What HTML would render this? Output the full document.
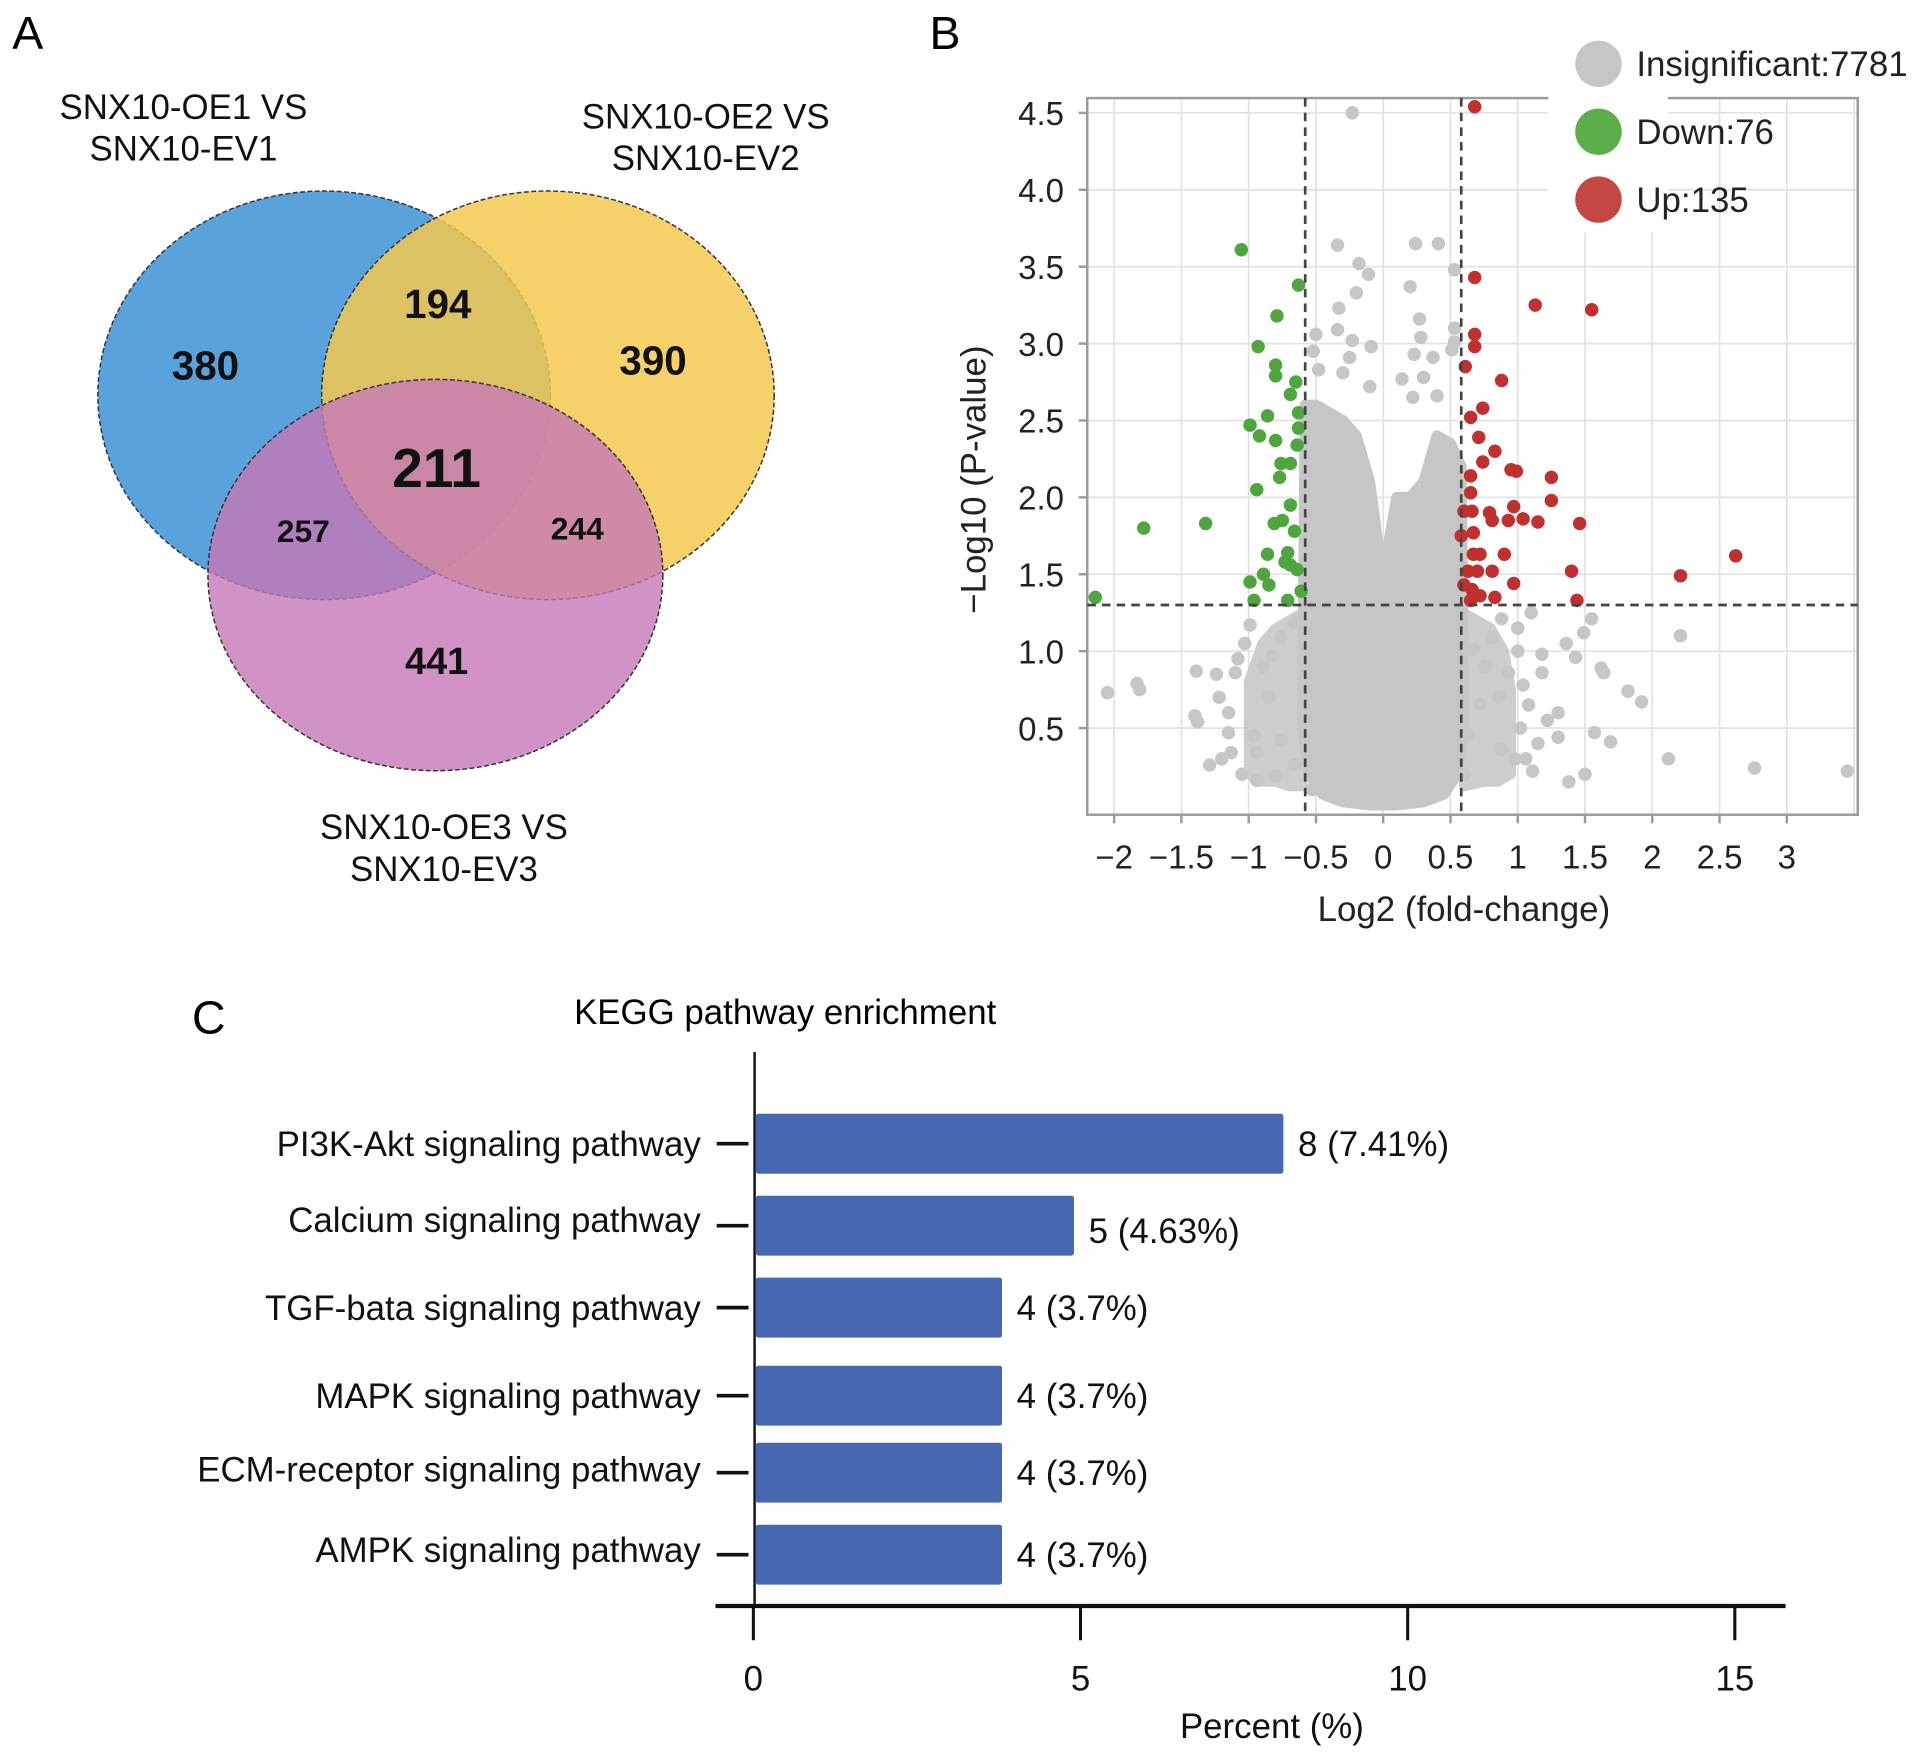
<!DOCTYPE html>
<html><head><meta charset="utf-8"><style>
html,body{margin:0;padding:0;background:#fff}
svg{display:block;font-family:"Liberation Sans",Arial,sans-serif}
</style></head><body>
<svg id="fig" width="1914" height="1753" viewBox="0 0 1565 1433" xmlns="http://www.w3.org/2000/svg">
<rect width="1565" height="1433" fill="#fff"/>
<g id="panelA">
<text x="10" y="40" font-size="38">A</text>
<ellipse cx="265" cy="323" rx="185" ry="167" fill="#5AA2DB" stroke="#333" stroke-width="1.2" stroke-dasharray="4 2"/>
<ellipse cx="448" cy="323" rx="185" ry="167" fill="#F4C84E" fill-opacity="0.85" stroke="#333" stroke-width="1.2" stroke-dasharray="4 2"/>
<ellipse cx="356" cy="470" rx="186" ry="160" fill="#C678B6" fill-opacity="0.8" stroke="#333" stroke-width="1.2" stroke-dasharray="4 2"/>
<g font-size="28.5" text-anchor="middle" fill="#111">
<text x="150" y="97">SNX10-OE1 VS</text>
<text x="150" y="131">SNX10-EV1</text>
<text x="577" y="105">SNX10-OE2 VS</text>
<text x="577" y="139">SNX10-EV2</text>
<text x="363" y="686">SNX10-OE3 VS</text>
<text x="363" y="720">SNX10-EV3</text>
</g>
<g font-weight="bold" text-anchor="middle" fill="#111">
<text x="168" y="310" font-size="33">380</text>
<text x="358" y="260" font-size="33">194</text>
<text x="534" y="306" font-size="33">390</text>
<text x="357" y="398" font-size="45">211</text>
<text x="248" y="443" font-size="26">257</text>
<text x="472" y="441" font-size="26">244</text>
<text x="357" y="551" font-size="31">441</text>
</g>
</g>
<g id="panelB">
<text x="760" y="40" font-size="38">B</text>
</g>
<g id="panelC">
<text x="157" y="845" font-size="38">C</text>
<text x="642" y="837" font-size="28.5" text-anchor="middle">KEGG pathway enrichment</text>
</g>
</svg>
<script>
// ---- Volcano data ----
const xTicks = [-2,-1.5,-1,-0.5,0,0.5,1,1.5,2,2.5,3];
const xTickLabels = ["\u22122","\u22121.5","\u22121","\u22120.5","0","0.5","1","1.5","2","2.5","3"];
const yTicks = [0.5,1,1.5,2,2.5,3,3.5,4,4.5];
const yTickLabels = ["0.5","1.0","1.5","2.0","2.5","3.0","3.5","4.0","4.5"];
const fcThreshold = [-0.58, 0.58];
const pThreshold = 1.3;
const legendLabels = ["Insignificant:7781","Down:76","Up:135"];
const coreX = [-0.58,-0.5,-0.4,-0.3,-0.2,-0.1,-0.04,0,0.04,0.1,0.2,0.3,0.4,0.5,0.58,0.6,0.55,0.45,0.3,0.1,-0.1,-0.3,-0.45,-0.55,-0.6];
const coreY = [2.6,2.6,2.55,2.5,2.4,2.1,1.7,1.3,1.7,2.0,2.0,2.1,2.4,2.35,2.2,0.5,0.2,0.07,0.02,0.0,0.0,0.02,0.07,0.2,0.5];
const leftShoulderX = [-0.6,-0.7,-0.8,-0.9,-1.0,-1.0,-0.9,-0.8,-0.7,-0.6];
const leftShoulderY = [1.25,1.2,1.15,1.05,0.8,0.2,0.15,0.15,0.12,0.12];
const rightShoulderX = [0.6,0.7,0.8,0.9,0.95,0.95,0.85,0.75,0.6];
const rightShoulderY = [1.25,1.2,1.15,1.0,0.75,0.2,0.15,0.15,0.12];
const greyX = [-0.23,-0.34,0.24,0.41,-0.18,-0.11,0.2,0.53,-0.2,-0.33,0.27,0.28,-0.34,-0.23,-0.09,-0.25,0.23,0.37,-0.48,-0.3,-0.1,0.14,0.3,0.4,0.22,0.53,0.51,1.49,2.21,1.43,1.0,1.18,1.62,1.64,1.82,1.92,1.3,1.57,1.69,1.3,1.38,1.5,2.12,2.76,3.45,-2.05,-1.83,-1.81,-1.39,-1.4,-1.38,-1.29,-1.15,-1.13,-1.22,-0.96,-0.94,-0.94,-0.8,-1.24,-1.1,-1.03,-0.99,0.93,1.04,1.18,1.06,1.11,0.88,0.86,1.1,1.0,0.67,0.76,0.72,0.63,0.6,-0.66,-0.76,-0.85,-0.89,0.81,0.88,-0.66,-0.76,-0.82,-0.53,1.55,1.36,-0.5,-0.52,0.53,-1.08,-1.15,-1.2,1.02,1.08,1.15,1.22,-1.05,0.98];
const greyY = [4.5,3.64,3.65,3.65,3.52,3.45,3.37,3.48,3.33,3.23,3.16,3.04,3.09,3.02,2.98,2.91,2.93,2.91,2.83,2.81,2.72,2.77,2.78,2.66,2.65,3.01,2.96,1.12,1.1,0.96,1.0,0.98,0.89,0.86,0.74,0.67,0.6,0.47,0.41,0.44,0.15,0.2,0.3,0.24,0.22,0.73,0.79,0.75,0.87,0.58,0.54,0.26,0.47,0.34,0.7,0.45,0.34,0.16,0.19,0.85,0.86,1.05,1.17,0.86,0.78,0.86,0.3,0.22,0.36,0.7,1.25,1.15,1.01,0.9,0.66,0.46,0.2,0.26,0.42,0.7,0.9,1.09,1.21,1.19,1.09,0.97,0.1,1.21,1.05,3.06,2.95,3.1,0.95,0.6,0.3,0.5,0.65,0.4,0.55,0.2,0.3];
const downX = [-1.055,-0.63,-0.79,-0.93,-0.8,-0.8,-0.65,-0.69,-0.86,-0.99,-0.63,-0.63,-0.92,-0.8,-0.64,-0.76,-0.69,-0.77,-0.94,-1.78,-1.32,-0.69,-0.81,-0.75,-0.66,-0.86,-0.71,-0.73,-0.69,-0.64,-0.89,-0.99,-0.85,-0.61,-0.96,-2.14,-0.71];
const downY = [3.61,3.38,3.18,2.98,2.86,2.79,2.75,2.67,2.53,2.47,2.55,2.45,2.4,2.37,2.34,2.22,2.22,2.13,2.05,1.8,1.83,1.95,1.83,1.85,1.78,1.63,1.64,1.58,1.56,1.53,1.5,1.45,1.43,1.39,1.33,1.35,1.33];
const upX = [0.68,0.68,1.13,1.55,0.68,0.68,0.61,0.88,0.74,0.65,0.71,0.83,0.74,0.65,0.95,0.99,1.25,1.25,0.97,0.65,0.6,0.66,0.79,0.81,0.93,1.04,1.15,1.46,0.58,0.67,0.67,0.72,0.9,2.62,2.21,1.4,0.63,0.7,0.81,0.97,0.6,0.66,0.72,0.83,1.44,0.65];
const upY = [4.54,3.43,3.25,3.22,3.06,2.98,2.85,2.76,2.58,2.52,2.39,2.3,2.23,2.14,2.18,2.17,2.13,1.98,1.94,2.03,1.91,1.91,1.9,1.85,1.85,1.86,1.84,1.83,1.75,1.77,1.63,1.63,1.63,1.62,1.49,1.52,1.52,1.52,1.52,1.44,1.43,1.4,1.36,1.35,1.33,1.33];
// ---- KEGG data ----
const pathways = ["PI3K-Akt signaling pathway","Calcium signaling pathway","TGF-bata signaling pathway","MAPK signaling pathway","ECM-receptor signaling pathway","AMPK signaling pathway"];
const barValues = [8.1,4.9,3.8,3.8,3.8,3.8];
const barLabels = ["8 (7.41%)","5 (4.63%)","4 (3.7%)","4 (3.7%)","4 (3.7%)","4 (3.7%)"];
const pctTicks = [0,5,10,15];

const NS = "http://www.w3.org/2000/svg";
function mk(parent, tag, attrs, text){const e=document.createElementNS(NS,tag);for(const k in attrs)e.setAttribute(k,attrs[k]);if(text!==undefined)e.textContent=text;parent.appendChild(e);return e;}

// Volcano
const B = document.getElementById('panelB');
const L=889,R=1519,T=80,Bt=666;
const sx = v => 1131 + v*110;
const sy = v => 658 - v*125.75;
for(let v=-2;v<=3.5;v+=0.5){const l=mk(B,'line',{x1:sx(v),x2:sx(v),y1:T,y2:Bt,stroke:'#e3e3e3','stroke-width':1.5});}
for(let v=0.5;v<=4.5;v+=0.5){const l=mk(B,'line',{x1:L,x2:R,y1:sy(v),y2:sy(v),stroke:'#e3e3e3','stroke-width':1.5});}
const frame=mk(B,'rect',{x:L,y:T,width:R-L,height:Bt-T,fill:'none',stroke:'#9a9a9a','stroke-width':2});


function poly(xs,ys){return xs.map((x,i)=>sx(x)+','+sy(ys[i])).join(' ');}
const ls=mk(B,'polygon',{points:poly(leftShoulderX,leftShoulderY),fill:'#cdcdcd',stroke:'#cdcdcd','stroke-width':8,'stroke-linejoin':'round'});


const rs=mk(B,'polygon',{points:poly(rightShoulderX,rightShoulderY),fill:'#cdcdcd',stroke:'#cdcdcd','stroke-width':8,'stroke-linejoin':'round'});


const core=mk(B,'polygon',{points:poly(coreX,coreY),fill:'#c6c6c6',stroke:'#c6c6c6','stroke-width':9,'stroke-linejoin':'round'});


greyX.forEach((x,i)=>{const c=mk(B,'circle',{cx:sx(x),cy:sy(greyY[i]),r:5.5,fill:'#c6c6c6'});});
downX.forEach((x,i)=>{const c=mk(B,'circle',{cx:sx(x),cy:sy(downY[i]),r:5.5,fill:'#4FA63F'});});
upX.forEach((x,i)=>{const c=mk(B,'circle',{cx:sx(x),cy:sy(upY[i]),r:5.5,fill:'#C0302E'});});
fcThreshold.forEach(v=>{const l=mk(B,'line',{x1:sx(v),x2:sx(v),y1:T,y2:Bt,stroke:'#444','stroke-width':2.2,'stroke-dasharray':'7 5'});});
{const l=mk(B,'line',{x1:L,x2:R,y1:sy(pThreshold),y2:sy(pThreshold),stroke:'#444','stroke-width':2.2,'stroke-dasharray':'7 5'});}
// legend
const lg=mk(B,'rect',{x:1266,y:25,width:98,height:165,fill:'#fff'});


const legCol=['#c6c6c6','#5BAE4A','#C44744'];
legendLabels.forEach((t,i)=>{const y=52+i*55.5;
const c=mk(B,'circle',{cx:1307,cy:y,r:19,fill:legCol[i]});
const tx=mk(B,'text',{x:1338,y:y+10,'font-size':28.5,fill:'#222'},t);});
xTicks.forEach((v,i)=>{const tk=mk(B,'line',{x1:sx(v),x2:sx(v),y1:Bt,y2:Bt+7,stroke:'#9a9a9a','stroke-width':2});
const t=mk(B,'text',{x:sx(v),y:710,'font-size':27,'text-anchor':'middle',fill:'#222'},xTickLabels[i]);});
yTicks.forEach((v,i)=>{const tk=mk(B,'line',{x1:L-7,x2:L,y1:sy(v),y2:sy(v),stroke:'#9a9a9a','stroke-width':2});
const t=mk(B,'text',{x:870,y:sy(v)+10,'font-size':27,'text-anchor':'end',fill:'#222'},yTickLabels[i]);});
{const t=mk(B,'text',{x:1197,y:753,'font-size':28.5,'text-anchor':'middle',fill:'#222'},'Log2 (fold-change)');}
{const t=mk(B,'text',{x:0,y:0,'font-size':28.5,'text-anchor':'middle',fill:'#222',transform:'translate(806,392) rotate(-90)'},'\u2212Log10 (P-value)');}

// KEGG bars
const C=document.getElementById('panelC');
const px = v => 616 + v*53.5;
const barCenters=[935,1002,1069,1141,1204,1271];
const barH=49;
{const a=mk(C,'line',{x1:617,x2:617,y1:860,y2:1313,stroke:'#111','stroke-width':2});}
pathways.forEach((p,i)=>{const cy=barCenters[i];
const b=mk(C,'rect',{x:618,y:cy-barH/2,width:px(barValues[i])-618,height:barH,fill:'#4568B1',rx:2});
const tk=mk(C,'line',{x1:586,x2:612,y1:cy,y2:cy,stroke:'#111','stroke-width':3});
const t=mk(C,'text',{x:573,y:cy+10-(i==1?5:0)-(i==4?3:0)-(i==5?4:0),'font-size':28.5,'text-anchor':'end',fill:'#111'},p);
const v=mk(C,'text',{x:px(barValues[i])+12,y:cy+10+(i==1?4:0),'font-size':28.5,fill:'#111'},barLabels[i]);});
{const a=mk(C,'line',{x1:585,x2:1460,y1:1313,y2:1313,stroke:'#111','stroke-width':3.5});}
pctTicks.forEach(v=>{const tk=mk(C,'line',{x1:px(v),x2:px(v),y1:1313,y2:1341,stroke:'#111','stroke-width':2.5});
const t=mk(C,'text',{x:px(v),y:1382,'font-size':28.5,'text-anchor':'middle',fill:'#111'},String(v));});
{const t=mk(C,'text',{x:1040,y:1421,'font-size':28.5,'text-anchor':'middle',fill:'#111'},'Percent (%)');}
</script>
</body></html>
